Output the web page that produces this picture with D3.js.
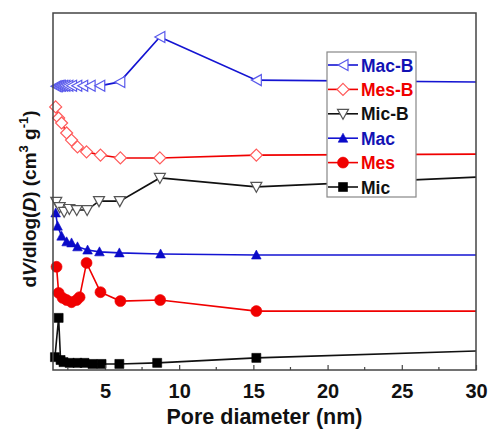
<!DOCTYPE html>
<html>
<head>
<meta charset="utf-8">
<script src="https://cdn.jsdelivr.net/npm/d3@7"></script>
<style>
  body { margin: 0; background: #fff; }
  text { font-family: "Liberation Sans", Arial, sans-serif; font-weight: bold; }
</style>
</head>
<body>
<svg id="chart"></svg>
<script>
const width = 489;
const height = 429;

// Pore size distributions (arbitrary stacked units, y axis has no scale)
const macBX = [1.7, 1.8, 1.9, 2.0, 2.15, 2.3, 2.5, 2.75, 3.1, 3.5, 4.0, 4.65, 6.0, 8.7, 15.2, 32];
const macBY = [79.5, 79.5, 79.6, 79.6, 79.6, 79.6, 79.6, 79.6, 79.6, 79.6, 79.6, 79.6, 80.7, 93.3, 81.2, 80.6];
const mesBX = [1.68, 1.88, 2.08, 2.42, 2.75, 3.15, 3.76, 4.7, 6.04, 8.7, 15.2, 32];
const mesBY = [73.7, 70.6, 69.2, 66.4, 64.4, 62.5, 61.1, 60.2, 59.4, 59.4, 60.2, 60.5];
const micBX = [1.72, 1.95, 2.25, 2.6, 3.1, 3.8, 4.6, 6.0, 8.7, 15.2, 32];
const micBY = [47.1, 45.6, 44.3, 45.1, 44.8, 44.8, 47.3, 47.3, 53.8, 51.3, 54.4];
const macX = [1.68, 1.81, 2.08, 2.42, 2.75, 3.15, 3.83, 4.63, 5.97, 8.75, 15.2, 32];
const macY = [44.0, 40.3, 37.5, 35.9, 35.6, 34.5, 33.6, 33.1, 32.8, 32.5, 32.2, 32.2];
const mesX = [1.74, 1.88, 2.15, 2.42, 2.75, 3.09, 3.29, 3.76, 4.7, 6.04, 8.72, 15.2, 32];
const mesY = [28.9, 21.6, 20.2, 19.6, 19.0, 19.6, 20.4, 30.0, 21.8, 19.3, 19.6, 16.5, 16.5];
const micX = [1.63, 1.88, 2.01, 2.21, 2.62, 3.15, 3.62, 4.16, 4.77, 5.97, 8.52, 15.2, 32];
const micY = [3.6, 14.6, 2.8, 2.2, 2.0, 2.0, 2.0, 1.7, 1.7, 1.7, 2.0, 3.4, 5.6];

const xTicks = [5, 10, 15, 20, 25, 30];
const xMinorTicks = [2.5, 7.5, 12.5, 17.5, 22.5, 27.5];

const series = [
  {name: "Mac-B", x: macBX, y: macBY, color: "#1414d2", text: "#1212b4", shape: "left", fill: "#fff", mark: "#5a5aeb"},
  {name: "Mes-B", x: mesBX, y: mesBY, color: "#f00000", text: "#f00000", shape: "diamond", fill: "#fff", mark: "#ff5a5a"},
  {name: "Mic-B", x: micBX, y: micBY, color: "#111", text: "#111", shape: "down", fill: "#fff", mark: "#555"},
  {name: "Mac", x: macX, y: macY, color: "#1414d2", text: "#1212b4", shape: "up", fill: "#0a0ac8", mark: "#0a0ac8"},
  {name: "Mes", x: mesX, y: mesY, color: "#f00000", text: "#f00000", shape: "circle", fill: "#f00000", mark: "#f00000"},
  {name: "Mic", x: micX, y: micY, color: "#111", text: "#111", shape: "square", fill: "#000", mark: "#000"}
];

const margin = {left: 53, right: 13, top: 13, bottom: 59};

const x = d3.scaleLinear().domain([1.5, 30]).range([margin.left, width - margin.right]);
const y = d3.scaleLinear().domain([0, 100]).range([height - margin.bottom, margin.top]);

const svg = d3.select("#chart")
    .attr("width", width)
    .attr("height", height);

svg.append("defs").append("clipPath")
    .attr("id", "plot")
  .append("rect")
    .attr("x", margin.left)
    .attr("y", margin.top)
    .attr("width", width - margin.left - margin.right)
    .attr("height", height - margin.top - margin.bottom);

// marker shapes
function markerPath(shape) {
  switch (shape) {
    case "left": return "M5,-5.5L-5,0L5,5.5Z";
    case "down": return "M-5.5,-4.5L5.5,-4.5L0,5.5Z";
    case "up": return "M-4.8,4L4.8,4L0,-5Z";
    case "diamond": return "M0,-6L6,0L0,6L-6,0Z";
    case "square": return "M-4.5,-4.5H4.5V4.5H-4.5Z";
    case "circle": return d3.symbol(d3.symbolCircle, 95)();
  }
}

const line = d3.line().x(d => x(d[0])).y(d => y(d[1]));

const plotG = svg.append("g");

series.forEach(s => {
  const pts = s.x.map((v, i) => [v, s.y[i]]);
  plotG.append("path")
      .datum(pts)
      .attr("clip-path", "url(#plot)")
      .attr("fill", "none")
      .attr("stroke", s.color)
      .attr("stroke-width", 1.6)
      .attr("d", line);
  plotG.append("g")
    .selectAll("path")
    .data(pts.filter(d => d[0] <= 30))
    .join("path")
      .attr("transform", d => `translate(${x(d[0])},${y(d[1])})`)
      .attr("d", markerPath(s.shape))
      .attr("fill", s.fill)
      .attr("stroke", s.mark)
      .attr("stroke-width", s.fill === "#fff" ? 1.2 : 0.6);
});

// frame
svg.append("rect")
    .attr("x", margin.left)
    .attr("y", margin.top)
    .attr("width", width - margin.left - margin.right)
    .attr("height", height - margin.top - margin.bottom)
    .attr("fill", "none")
    .attr("stroke", "#444")
    .attr("stroke-width", 1.5);

// x axis, ticks pointing inward
const xAxis = svg.append("g")
    .attr("transform", `translate(0,${height - margin.bottom})`)
    .call(d3.axisBottom(x).tickValues(xTicks).tickSize(-5).tickPadding(14));
xAxis.select(".domain").remove();
xAxis.selectAll("line").attr("stroke", "#444").attr("stroke-width", 1.2);
xAxis.selectAll("text")
    .attr("font-size", 20)
    .attr("font-family", "Liberation Sans, Arial, sans-serif")
    .attr("font-weight", "bold")
    .attr("fill", "#111");

svg.append("g")
    .attr("transform", `translate(0,${height - margin.bottom})`)
  .selectAll("line")
  .data(xMinorTicks)
  .join("line")
    .attr("x1", d => x(d))
    .attr("x2", d => x(d))
    .attr("y1", 0)
    .attr("y2", -3)
    .attr("stroke", "#444")
    .attr("stroke-width", 1.2);

// axis titles
svg.append("text")
    .attr("x", (margin.left + width - margin.right) / 2)
    .attr("y", 424)
    .attr("text-anchor", "middle")
    .attr("font-size", 21.5)
    .attr("fill", "#111")
    .text("Pore diameter (nm)");

const yLab = svg.append("text")
    .attr("transform", "translate(36,199) rotate(-90)")
    .attr("text-anchor", "middle")
    .attr("font-size", 19)
    .attr("fill", "#111");
yLab.append("tspan").text("d");
yLab.append("tspan").attr("font-style", "italic").text("V");
yLab.append("tspan").text("/dlog(");
yLab.append("tspan").attr("font-style", "italic").text("D");
yLab.append("tspan").text(") (cm");
yLab.append("tspan").attr("font-size", 13).attr("dy", -8).text("3");
yLab.append("tspan").attr("dy", 8).text(" g");
yLab.append("tspan").attr("font-size", 13).attr("dy", -8).text("-1");
yLab.append("tspan").attr("dy", 8).text(")");

// legend
const lg = svg.append("g");
lg.append("rect")
    .attr("x", 327)
    .attr("y", 52)
    .attr("width", 89)
    .attr("height", 145)
    .attr("fill", "#fff")
    .attr("stroke", "#888")
    .attr("stroke-width", 1.2);

const item = lg.selectAll("g.item")
  .data(series)
  .join("g")
    .attr("class", "item")
    .attr("transform", (d, i) => `translate(0,${65 + i * 24.4})`);
item.append("line")
    .attr("x1", 328).attr("x2", 358)
    .attr("stroke", d => d.color)
    .attr("stroke-width", 1.6);
item.append("path")
    .attr("transform", "translate(343,0)")
    .attr("d", d => markerPath(d.shape))
    .attr("fill", d => d.fill)
    .attr("stroke", d => d.mark)
    .attr("stroke-width", d => d.fill === "#fff" ? 1.2 : 0.6);
item.append("text")
    .attr("x", 361)
    .attr("y", 6.5)
    .attr("font-size", 17.5)
    .attr("fill", d => d.text)
    .text(d => d.name);
</script>
</body>
</html>
